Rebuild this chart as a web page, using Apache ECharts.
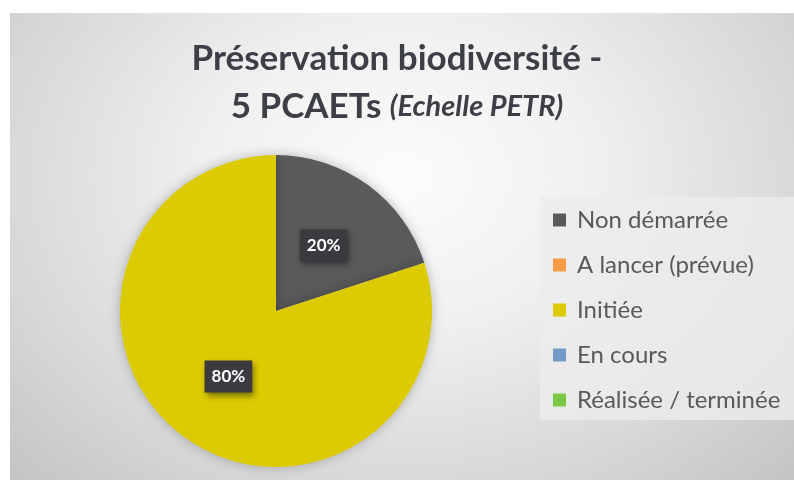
<!DOCTYPE html>
<html>
<head>
<meta charset="utf-8">
<script src="https://cdn.jsdelivr.net/npm/echarts@6/dist/echarts.min.js"></script>
<style>
html,body{margin:0;padding:0;background:#fff;}
#wrap{position:relative;width:794px;height:480px;overflow:hidden;}
#bg{position:absolute;left:10px;top:13px;width:784px;height:467px;
background:radial-gradient(ellipse at 50% 35%, #fcfcfc 0%, #f0f0f0 35%, #d6d6d6 75%, #c4c4c4 100%);}
#chart{position:absolute;left:0;top:0;width:794px;height:480px;}
</style>
</head>
<body>
<div id="wrap"><div id="bg"></div><div id="chart"></div></div>
<script>
const categories = ['Non démarrée', 'A lancer (prévue)', 'Initiée', 'En cours', 'Réalisée / terminée'];
const values = [1, 0, 4, 0, 0];
const colors = ['#5a5a5a', '#f79a46', '#dccb00', '#7399c6', '#7cc846'];

const chart = echarts.init(document.getElementById('chart'));
const data = categories.map((c, i) => ({
  name: c,
  value: values[i],
  itemStyle: { color: colors[i] },
  label: { show: values[i] > 0 }
}));

chart.setOption({
  animation: false,
  title: {
    left: 'center',
    top: 30,
    text: '{a|Préservation biodiversité -}\n{a|5 PCAETs }{b|(Echelle PETR)}',
    textStyle: {
      rich: {
        a: { fontFamily: 'Lato', fontWeight: 'bold', fontSize: 35, color: '#3d3f46', lineHeight: 48 },
        b: { fontFamily: 'Lato', fontWeight: 'bold', fontStyle: 'italic', fontSize: 29, color: '#3d3f46', lineHeight: 48 }
      }
    }
  },
  legend: {
    orient: 'vertical',
    left: 540,
    top: 197,
    padding: [11, 14, 8, 13],
    itemGap: 21,
    itemWidth: 13,
    itemHeight: 13,
    icon: 'rect',
    backgroundColor: 'rgba(236,236,236,0.8)',
    textStyle: { fontFamily: 'Lato', fontSize: 24, color: '#595959', padding: [0, 0, 0, 6] },
    data: categories
  },
  series: [{
    type: 'pie',
    center: [276, 311],
    radius: 156,
    startAngle: 90,
    clockwise: true,
    avoidLabelOverlap: false,
    itemStyle: { shadowBlur: 12, shadowColor: 'rgba(0,0,0,0.25)' },
    label: {
      position: 'inside',
      formatter: '{d}%',
      color: '#ffffff',
      fontFamily: 'Lato',
      fontSize: 17,
      fontWeight: 'bold',
      backgroundColor: '#3a3a3f',
      padding: [8, 7, 7, 7],
      shadowBlur: 6,
      shadowColor: 'rgba(0,0,0,0.45)',
      shadowOffsetX: 2,
      shadowOffsetY: 3
    },
    labelLine: { show: false },
    emphasis: { disabled: true },
    data: data
  }]
});
</script>
</body>
</html>
